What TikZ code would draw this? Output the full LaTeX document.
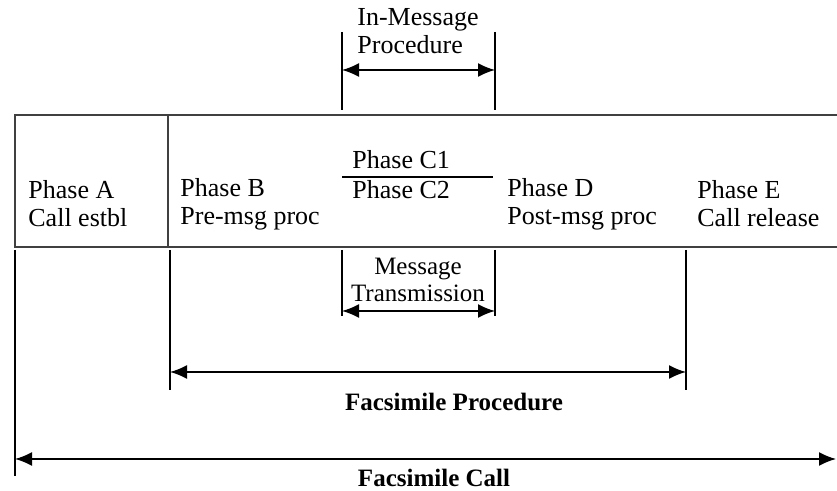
\documentclass[tikz,border=0pt]{standalone}
\usepackage{fontspec}
\setmainfont{Liberation Serif}
\usetikzlibrary{arrows.meta}
\begin{document}
\begin{tikzpicture}[x=0.5pt,y=-0.5pt,
  lbl/.style={inner sep=0pt, anchor=west, font=\fontsize{13}{14}\selectfont, align=left},
  clbl/.style={inner sep=0pt, font=\fontsize{12.5}{14}\selectfont\bfseries},
  tick/.style={line width=0.6pt},
  boxline/.style={line width=1pt, black!75},
  dim/.style={line width=0.8pt, {Latex[length=8.5pt,width=7pt]}-{Latex[length=8.5pt,width=7pt]}},
]
\useasboundingbox (0,0) rectangle (837,491);
% frame
\coordinate (tl) at (15,115); \coordinate (bl) at (15,247);
\coordinate (tr) at (837,115); \coordinate (br) at (837,247);
\coordinate (dt) at (168,115); \coordinate (db) at (168,247);
\draw[boxline] (tr) -- (tl) -- (bl) -- (br);
\draw[boxline] (dt) -- (db);
% phase labels
\node[lbl] (pa) at (28,204) {Phase A\\Call estbl};
\node[lbl] (pb) at (180,204) {Phase B\\Pre-msg proc};
\node[lbl] (pd) at (507,204) {Phase D\\Post-msg proc};
\node[lbl] (pe) at (697,204) {Phase E\\Call release};
\node[lbl] (pc1) at (352,160) {Phase C1};
\node[lbl] (pc2) at (352,190) {Phase C2};
\coordinate (cl) at (342,177); \coordinate (cr) at (493,177);
\draw[tick] (cl) -- (cr);
% In-message procedure
\node[lbl] (imp) at (357,31) {In-Message\\Procedure};
\coordinate (i1t) at (342,32); \coordinate (i1b) at (342,110);
\coordinate (i2t) at (495,32); \coordinate (i2b) at (495,110);
\draw[tick] (i1t) -- (i1b); \draw[tick] (i2t) -- (i2b);
\coordinate (ia) at (342,70); \coordinate (ib) at (495,70);
\draw[dim] (ia) -- (ib);
% message transmission
\node[inner sep=0pt, font=\fontsize{12.5}{13.5}\selectfont, align=center] (mt) at (418,280) {Message\\Transmission};
\coordinate (m1t) at (342,250); \coordinate (m1b) at (342,316);
\coordinate (m2t) at (495,250); \coordinate (m2b) at (495,316);
\draw[tick] (m1t) -- (m1b); \draw[tick] (m2t) -- (m2b);
\coordinate (ma) at (342,311); \coordinate (mb) at (495,311);
\draw[dim] (ma) -- (mb);
% facsimile procedure
\coordinate (f1t) at (170,250); \coordinate (f1b) at (170,390);
\coordinate (f2t) at (686,250); \coordinate (f2b) at (686,390);
\draw[tick] (f1t) -- (f1b); \draw[tick] (f2t) -- (f2b);
\coordinate (fa) at (170,372); \coordinate (fb) at (686,372);
\draw[dim] (fa) -- (fb);
\node[clbl] (fp) at (454,402) {Facsimile Procedure};
% facsimile call
\coordinate (c1t) at (15,250); \coordinate (c1b) at (15,476);
\draw[tick] (c1t) -- (c1b);
\coordinate (ca) at (15,459); \coordinate (cb) at (836,459);
\draw[dim] (ca) -- (cb);
\node[clbl] (fc) at (434,478) {Facsimile Call};
\end{tikzpicture}
\end{document}
